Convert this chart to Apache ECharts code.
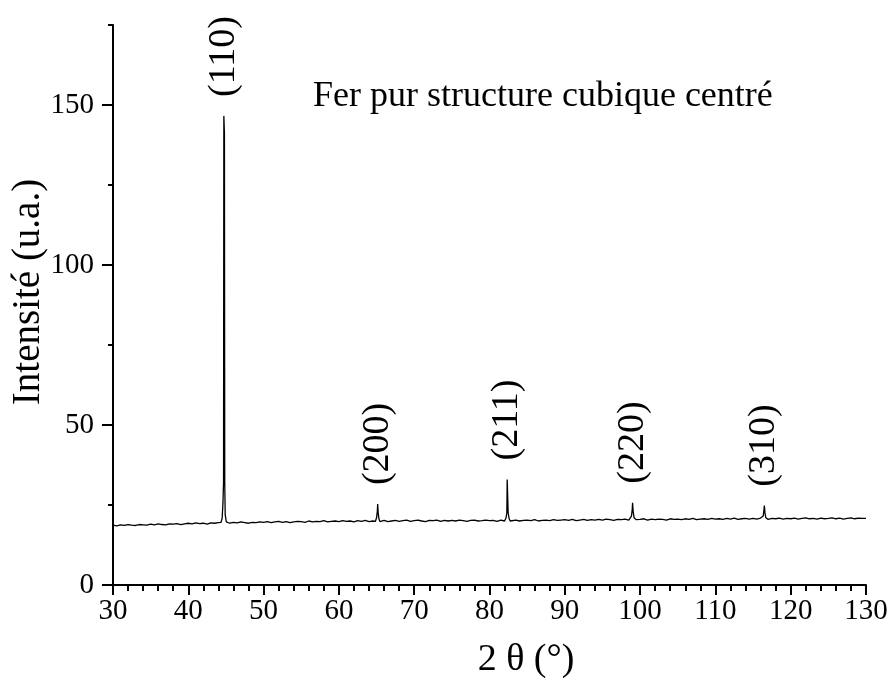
<!DOCTYPE html>
<html><head><meta charset="utf-8">
<script src="https://cdn.jsdelivr.net/npm/echarts@6/dist/echarts.min.js"></script>
<style>html,body{margin:0;padding:0;background:#fff}#c{width:892px;height:684px}</style>
</head><body><div id="c"></div>
<script>
// Scan: 2θ from 30° to 130°, step 0.5° (background intensity, u.a.)
const scanStart = 30;
const scanStep = 0.5;
const background = [
  18.7,18.5,18.8,18.6,18.9,18.7,18.6,18.9,18.8,18.7,
  19.0,18.8,19.1,18.9,18.8,19.1,19.0,19.2,18.9,19.1,
  19.3,19.1,19.4,19.2,19.3,19.0,19.4,19.3,19.5,19.6,
  19.5,19.3,19.6,19.4,19.7,19.5,19.3,19.6,19.5,19.7,
  19.6,19.8,19.5,19.7,19.9,19.6,19.8,19.5,19.7,19.9,
  19.8,19.6,20.0,19.7,19.9,19.8,20.1,19.7,19.9,20.0,
  19.8,20.1,19.9,20.0,19.7,20.1,19.9,20.2,19.8,20.0,
  20.1,19.9,20.2,19.8,20.0,20.2,19.9,20.1,20.3,19.9,
  20.1,20.3,20.0,19.8,20.2,20.1,20.3,19.9,20.2,20.0,
  20.2,20.0,20.3,20.1,19.9,20.2,20.3,20.0,20.1,20.3,
  20.1,20.2,19.9,20.3,20.0,20.2,20.1,20.3,20.0,20.2,
  20.3,20.1,20.4,20.0,20.2,20.3,20.1,20.4,20.2,20.3,
  20.4,20.2,20.5,20.1,20.3,20.5,20.2,20.4,20.3,20.5,
  20.3,20.6,20.4,20.2,20.5,20.4,20.6,20.3,20.6,20.4,
  20.5,20.7,20.3,20.6,20.4,20.6,20.5,20.3,20.7,20.5,
  20.6,20.4,20.7,20.5,20.8,20.4,20.6,20.7,20.5,20.8,
  20.6,20.7,20.5,20.8,20.6,20.9,20.5,20.7,20.8,20.6,
  20.8,20.6,20.9,20.7,20.5,20.8,20.7,20.9,20.6,20.8,
  20.7,20.9,20.6,20.8,21.0,20.7,20.8,20.6,20.9,20.7,
  20.8,21.0,20.7,20.9,20.6,20.8,21.0,20.7,20.9,20.8,
  20.8
];
// Peak profiles [2θ, intensity]
const peak110 = [[44.35,19.6],[44.5,21.0],[44.6,25.5],[44.68,32.0],[44.72,146.6],[44.8,141.0],[44.84,32.0],[44.9,22.0],[45.05,19.7]];
const peak200 = [[64.85,19.9],[65.0,21.0],[65.1,23.0],[65.15,25.3],[65.22,22.5],[65.32,20.6],[65.45,19.8]];
const peak211 = [[82.05,19.9],[82.2,21.0],[82.3,22.5],[82.35,33.0],[82.42,33.0],[82.48,22.5],[82.6,20.8],[82.75,20.0]];
const peak220 = [[98.7,20.3],[98.85,21.5],[98.95,23.5],[99.0,25.7],[99.08,23.0],[99.2,21.0],[99.35,20.4]];
const peak310 = [[116.2,20.5],[116.35,21.6],[116.45,23.5],[116.5,24.8],[116.58,22.6],[116.7,21.0],[116.85,20.6]];
const peakNames = ['(110)','(200)','(211)','(220)','(310)'];
const peakProfiles = [peak110, peak200, peak211, peak220, peak310];
const yMajorTicks = [0, 50, 100, 150];
const titleText = 'Fer pur structure cubique centré';
const xName = '2 θ (°)';
const yName = 'Intensité (u.a.)';

// Assemble the pattern
const points = [];
background.forEach((v, i) => {
  const x = scanStart + i * scanStep;
  const inPeak = peakProfiles.some(p => x >= p[0][0] && x <= p[p.length - 1][0]);
  if (!inPeak) points.push([x, v]);
});
peakProfiles.forEach(p => p.forEach(pt => points.push(pt)));
points.sort((a, b) => a[0] - b[0]);

const labelData = peakProfiles.map((p, i) => {
  let best = p[0];
  p.forEach(pt => { if (pt[1] > best[1]) best = pt; });
  return [best[0], best[1], peakNames[i]];
});

const FONT = "'Liberation Serif','Times New Roman',serif";
const chart = echarts.init(document.getElementById('c'));
chart.setOption({
  animation: false,
  backgroundColor: '#fff',
  grid: { left: 113, right: 26, top: 25, bottom: 99, outerBoundsMode: 'none', containLabel: false },
  graphic: [{
    type: 'text', left: 313, top: 79,
    style: { text: titleText, font: "36px 'Liberation Serif','Times New Roman',serif", fill: '#000' }
  }, {
    type: 'text', x: 29, y: 292, rotation: Math.PI / 2,
    style: { text: yName, font: "39px 'Liberation Serif','Times New Roman',serif", fill: '#000', align: 'center', verticalAlign: 'middle' }
  }, {
    type: 'text', x: 526, y: 660,
    style: { text: xName, font: "38px 'Liberation Serif','Times New Roman',serif", fill: '#000', align: 'center', verticalAlign: 'middle' }
  }],
  xAxis: {
    type: 'value', min: 30, max: 130, interval: 10,
    axisLine: { show: true, onZero: false, lineStyle: { color: '#000', width: 2 } },
    axisTick: { show: true, inside: false, length: 10, lineStyle: { color: '#000', width: 2 } },
    minorTick: { show: true, splitNumber: 5, length: 6, lineStyle: { color: '#000', width: 2 } },
    axisLabel: { margin: 12, fontFamily: FONT, fontSize: 29, color: '#000' },
    splitLine: { show: false }
  },
  yAxis: [{
    type: 'value', min: 0, max: 175, interval: 25,
    axisLine: { show: true, onZero: false, lineStyle: { color: '#000', width: 2 } },
    axisTick: { show: true, length: 5, lineStyle: { color: '#000', width: 2 } },
    axisLabel: { show: false },
    splitLine: { show: false }
  }, {
    type: 'value', min: 0, max: 175, interval: 25, position: 'left', offset: 0,
    axisLine: { show: false },
    axisTick: { show: true, length: 11, customValues: yMajorTicks, lineStyle: { color: '#000', width: 2 } },
    axisLabel: { show: true, customValues: yMajorTicks, margin: 19, fontFamily: FONT, fontSize: 29, color: '#000' },
    splitLine: { show: false }
  }],
  series: [{
    type: 'line', data: points, xAxisIndex: 0, yAxisIndex: 0,
    showSymbol: false, symbol: 'none',
    lineStyle: { color: '#000', width: 1.3 }
  }, {
    type: 'scatter', data: labelData, xAxisIndex: 0, yAxisIndex: 0,
    symbolSize: 0, silent: true,
    itemStyle: { opacity: 1 },
    label: {
      show: true, position: 'top', distance: 21, rotate: 90,
      align: 'left', verticalAlign: 'middle', offset: [-2, 0], opacity: 1,
      formatter: p => p.data[2],
      fontFamily: FONT, fontSize: 38, color: '#000'
    }
  }]
});
</script>
</body></html>
